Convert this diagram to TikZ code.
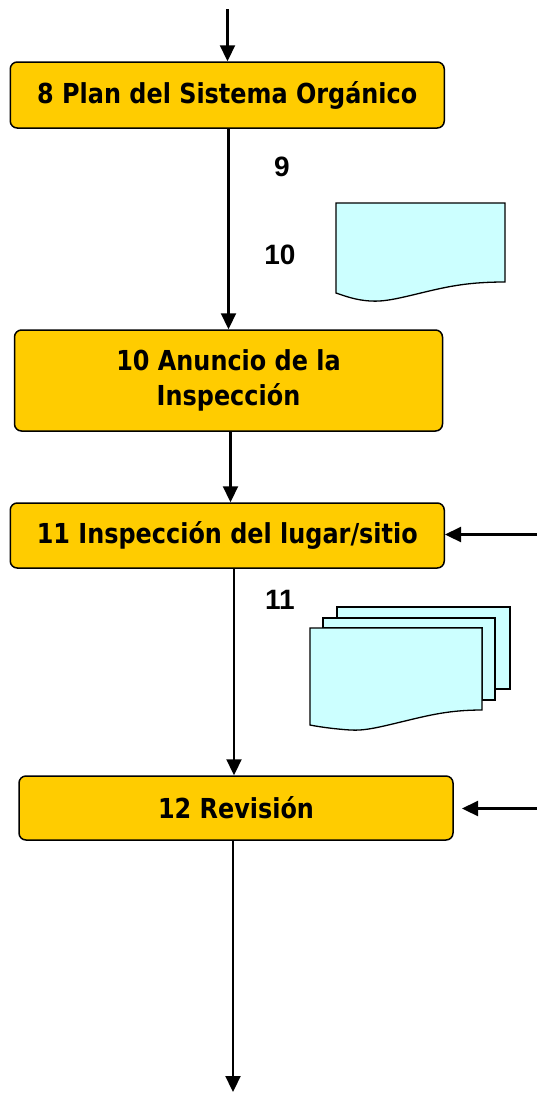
\documentclass[tikz,border=0pt]{standalone}
\usepackage{fontspec}
\usetikzlibrary{arrows.meta}
\newfontfamily\boxfont[FakeStretch=0.87]{DejaVu Sans}
\newfontfamily\labfont{Liberation Sans}
\definecolor{boxyellow}{HTML}{FFCC00}
\definecolor{docblue}{HTML}{CCFFFF}
\begin{document}
\begin{tikzpicture}[x=1pt,y=-1pt,
  procbox/.style={draw=black,line width=1.5pt,fill=boxyellow,rounded corners=7pt,
    align=center,inner sep=0pt,font=\boxfont\bfseries\fontsize{27.5}{35}\selectfont},
  arr/.style={line width=2.2pt,-{Triangle[length=16pt,width=15pt]}},
  lab/.style={font=\labfont\bfseries\fontsize{28}{30}\selectfont,inner sep=0pt},
  docshape/.style={draw=black,line width=1.3pt,fill=docblue}]
\useasboundingbox (0,0) rectangle (537,1096);
% process boxes
\node[procbox,minimum width=434pt,minimum height=66pt] (b1) at (227.25,95) {8 Plan del Sistema Orgánico};
\node[procbox,minimum width=428pt,minimum height=101pt] (b2) at (228.5,380.5) {10 Anuncio de la\\Inspección};
\node[procbox,minimum width=434pt,minimum height=65pt] (b3) at (227.25,535.5) {11 Inspección del lugar/sitio};
\node[procbox,minimum width=434pt,minimum height=64pt] (b4) at (236,808) {12 Revisión};
% labels
\node[lab] (l9) at (282,167) {9};
\node[lab] (l10) at (280,255) {10};
\node[lab] (l11) at (280,600) {11};
% single document
\draw[docshape] (336,203) -- (505,203) -- (505,282)
  .. controls (470,282) and (450,286) .. (425,292)
  .. controls (400,298) and (385,302) .. (370,301)
  .. controls (355,300) and (345,296) .. (336,293) -- cycle;
% stacked documents
\draw[docshape] (337,607) -- (510,607) -- (510,689) -- (495,689) -- (495,618) -- (337,618) -- cycle;
\draw[docshape] (323,618) -- (495,618) -- (495,700) -- (482,700) -- (482,628) -- (323,628) -- cycle;
\draw[docshape] (310,628) -- (482,628) -- (482,710)
  .. controls (450,710) and (430,715) .. (405,721)
  .. controls (380,727) and (365,731) .. (350,730)
  .. controls (335,729) and (320,727) .. (310,725) -- cycle;
% coordinates
\coordinate (top) at (227.5,9);
\coordinate (bot) at (233,1092);
\coordinate (r3) at (537,534.5);
\coordinate (r4) at (537,808.5);
\coordinate (r4end) at (462,808.5);
% connectors
\draw[arr] (top) -- (b1.north -| 227.5,0);
\draw[arr] (b1.south -| 228.5,0) -- (b2.north -| 228.5,0);
\draw[arr] (b2.south -| 230.5,0) -- (b3.north -| 230.5,0);
\draw[arr] (b3.south -| 234,0) -- (b4.north -| 234,0);
\draw[arr] (b4.south -| 233,0) -- (bot);
\draw[arr] (r3) -- (b3.east |- r3);
\draw[arr] (r4) -- (r4end);
\end{tikzpicture}
\end{document}
